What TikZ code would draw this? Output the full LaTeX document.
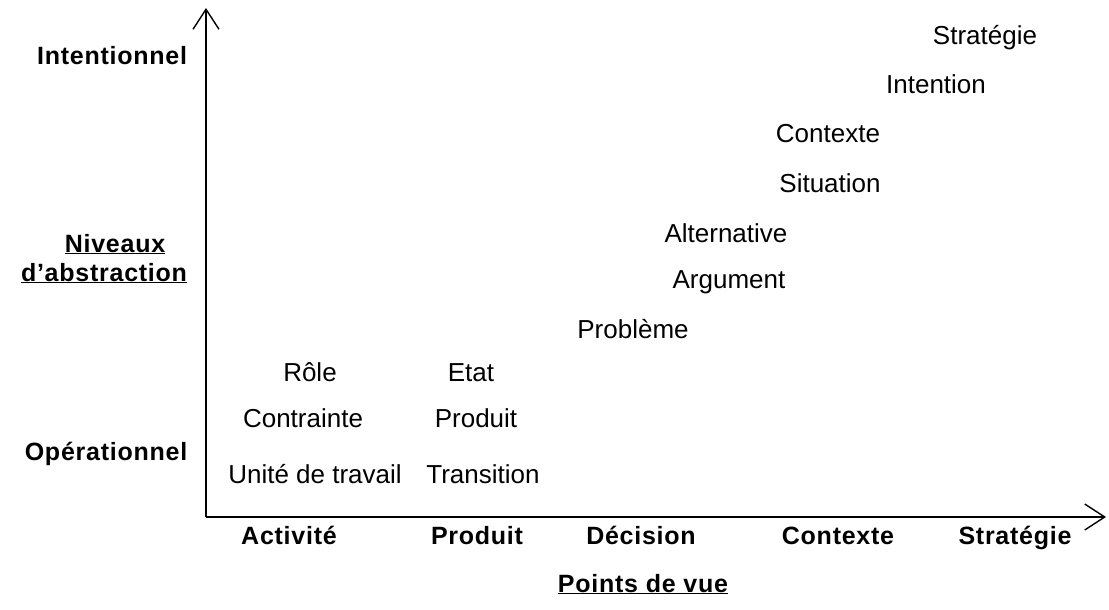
\documentclass[tikz,border=0pt]{standalone}
\usepackage{fontspec}
\setmainfont{Liberation Sans}
\newfontfamily\labfont{Liberation Sans}[LetterSpace=3]
\usetikzlibrary{arrows.meta}
\tikzset{
  lab/.style={font=\labfont\fontsize{25}{29}\selectfont\bfseries, inner sep=0pt, anchor=base},
  itm/.style={font=\fontsize{26}{31}\selectfont, inner sep=0pt, anchor=base},
  axis/.style={line width=1.3pt, -{Straight Barb[length=20pt,width=26pt,line width=1.4pt]}}
}
\begin{document}
\begin{tikzpicture}[x=1pt,y=-1pt]
\useasboundingbox (0,0) rectangle (1109,610);
\coordinate (O) at (206,517);
\coordinate (ytip) at (206,8);
\coordinate (xtip) at (1106,517);
\draw[axis] (O) -- (ytip);
\draw[axis] (O) -- (xtip);
% left labels
\node[lab] (intl) at (112,65) {Intentionnel};
\node[lab] (niv) at (115,252) {\underline{Niveaux}};
\node[lab] (abs) at (104,281) {\underline{d’abstraction}};
\node[lab] (oper) at (106,460) {Opérationnel};
% bottom labels
\node[lab] (act) at (289,544) {Activité};
\node[lab] (prod) at (477,544) {Produit};
\node[lab] (dec) at (641,544) {Décision};
\node[lab] (ctx) at (838,544) {Contexte};
\node[lab] (str) at (1015,544) {Stratégie};
\node[lab] (pdv) at (643,592) {\underline{Points de vue}};
% items
\node[itm] (i1) at (985,45) {Stratégie};
\node[itm] (i2) at (936,94) {Intention};
\node[itm] (i3) at (828,142) {Contexte};
\node[itm] (i4) at (830,192) {Situation};
\node[itm] (i5) at (726,242) {Alternative};
\node[itm] (i6) at (729,288) {Argument};
\node[itm] (i7) at (633,338) {Problème};
\node[itm] (i8) at (310,381) {Rôle};
\node[itm] (i9) at (471,381) {Etat};
\node[itm] (i10) at (303,427) {Contrainte};
\node[itm] (i11) at (476,427) {Produit};
\node[itm] (i12) at (315,483) {Unité de travail};
\node[itm] (i13) at (483,483) {Transition};
\end{tikzpicture}
\end{document}
